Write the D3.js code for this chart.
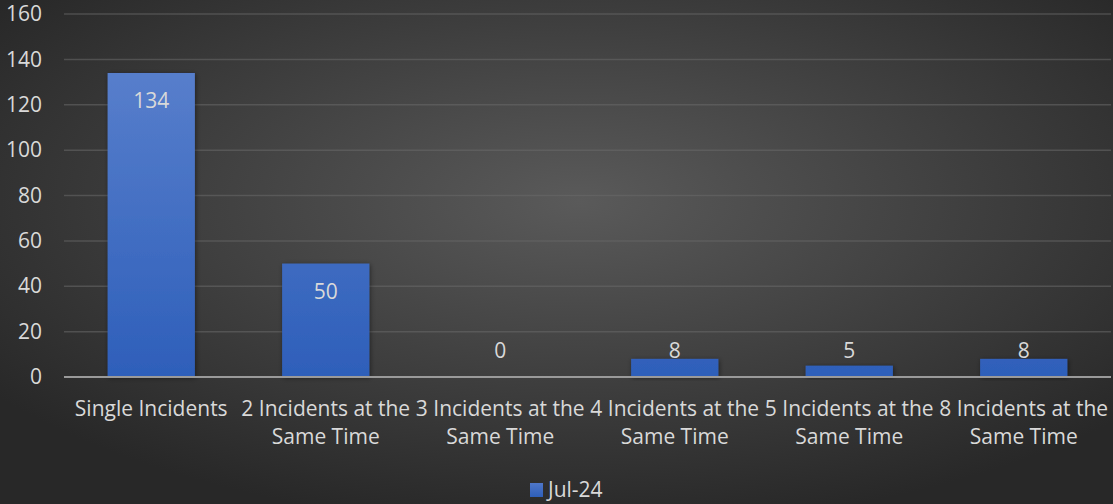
<!DOCTYPE html>
<html>
<head>
<meta charset="utf-8">
<script src="https://cdn.jsdelivr.net/npm/d3@7"></script>
<style>
  html, body { margin: 0; padding: 0; background: #333; }
  svg { display: block; }
  text { font-family: "Open Sans", Lato, sans-serif; }
</style>
</head>
<body>
<svg id="chart" width="1113" height="504"></svg>
<script>
// Incident grouping counts for July 2024
const categories = [
  ["Single Incidents"],
  ["2 Incidents at the", "Same Time"],
  ["3 Incidents at the", "Same Time"],
  ["4 Incidents at the", "Same Time"],
  ["5 Incidents at the", "Same Time"],
  ["8 Incidents at the", "Same Time"]
];
const values = [134, 50, 0, 8, 5, 8];
const seriesName = "Jul-24";
const yTicks = [0, 20, 40, 60, 80, 100, 120, 140, 160];

const W = 1113, H = 504;
const margin = { left: 64, right: 2, top: 14, bottom: 127 };
const FS = 21;
const textColor = "#d9d9d9";

const svg = d3.select("#chart");
const defs = svg.append("defs");

// Background: dark radial glow, lighter toward the middle
const bg = defs.append("radialGradient").attr("id", "bg")
  .attr("cx", "52%").attr("cy", "40%").attr("r", "65%");
bg.append("stop").attr("offset", "0%").attr("stop-color", "#5a5a5a");
bg.append("stop").attr("offset", "100%").attr("stop-color", "#282828");

// Bar fill: lighter blue at the top, deeper at the base
const barGrad = defs.append("linearGradient").attr("id", "barFill")
  .attr("gradientUnits", "userSpaceOnUse")
  .attr("x1", 0).attr("x2", 0).attr("y1", margin.top).attr("y2", H - margin.bottom);
barGrad.append("stop").attr("offset", "0%").attr("stop-color", "#5f84cf");
barGrad.append("stop").attr("offset", "100%").attr("stop-color", "#2e5fba");

const shadow = defs.append("filter").attr("id", "shadow")
  .attr("x", "-20%").attr("y", "-20%").attr("width", "140%").attr("height", "140%");
shadow.append("feDropShadow").attr("dx", 1).attr("dy", 1).attr("stdDeviation", 2.5)
  .attr("flood-color", "#000").attr("flood-opacity", 0.45);

svg.append("rect").attr("width", W).attr("height", H).attr("fill", "url(#bg)");

const x = d3.scaleBand()
  .domain(d3.range(categories.length))
  .range([margin.left, W - margin.right])
  .paddingInner(0.5).paddingOuter(0.25);

const y = d3.scaleLinear()
  .domain([0, 160])
  .range([H - margin.bottom, margin.top]);

// Gridlines
svg.append("g")
  .selectAll("line")
  .data(yTicks.filter(d => d > 0))
  .join("line")
  .attr("x1", margin.left).attr("x2", W - margin.right)
  .attr("y1", d => y(d)).attr("y2", d => y(d))
  .attr("stroke", "#6a6a6a").attr("stroke-opacity", 0.55).attr("stroke-width", 1.5);

// Y axis labels
const yAxis = d3.axisLeft(y).tickValues(yTicks).tickSize(0).tickPadding(0);
const yg = svg.append("g").attr("transform", `translate(42,0)`).call(yAxis);
yg.select(".domain").remove();
yg.selectAll("text")
  .attr("fill", textColor).attr("font-size", FS)
  .style("font-family", "'Open Sans', Lato, sans-serif");

// Bars
svg.append("g")
  .selectAll("rect")
  .data(values)
  .join("rect")
  .attr("x", (d, i) => x(i))
  .attr("width", x.bandwidth())
  .attr("y", d => y(d))
  .attr("height", d => y(0) - y(d))
  .attr("fill", "url(#barFill)")
  .attr("filter", "url(#shadow)");

// Baseline
svg.append("line")
  .attr("x1", margin.left).attr("x2", W - margin.right)
  .attr("y1", y(0)).attr("y2", y(0))
  .attr("stroke", "#9a9a9a").attr("stroke-width", 2);

// Value labels: inside the bar top when it fits, just above the baseline otherwise
svg.append("g")
  .selectAll("text")
  .data(values)
  .join("text")
  .attr("x", (d, i) => x(i) + x.bandwidth() / 2)
  .attr("y", d => (y(0) - y(d) > 40 ? y(d) + 28 : y(0) - 26))
  .attr("dy", "0.35em")
  .attr("text-anchor", "middle")
  .attr("fill", textColor).attr("font-size", FS)
  .text(d => d);

// Category labels
const xg = svg.append("g");
categories.forEach((lines, i) => {
  const cx = x(i) + x.bandwidth() / 2;
  const t = xg.append("text")
    .attr("x", cx)
    .attr("y", 409)
    .attr("text-anchor", "middle")
    .attr("fill", textColor).attr("font-size", FS);
  lines.forEach((ln, j) => {
    t.append("tspan")
      .attr("x", cx)
      .attr("dy", j === 0 ? "0.35em" : 28)
      .text(ln);
  });
});

// Legend
const lg = defs.append("linearGradient").attr("id", "legendFill")
  .attr("x1", 0).attr("x2", 0).attr("y1", 0).attr("y2", 1);
lg.append("stop").attr("offset", "0%").attr("stop-color", "#4f77c9");
lg.append("stop").attr("offset", "100%").attr("stop-color", "#2e5fba");
const legend = svg.append("g").attr("transform", "translate(530,483)");
legend.append("rect").attr("width", 13).attr("height", 14).attr("fill", "url(#legendFill)");
legend.append("text")
  .attr("x", 18).attr("y", 7).attr("dy", "0.35em")
  .attr("fill", textColor).attr("font-size", FS)
  .text(seriesName);
</script>
</body>
</html>
